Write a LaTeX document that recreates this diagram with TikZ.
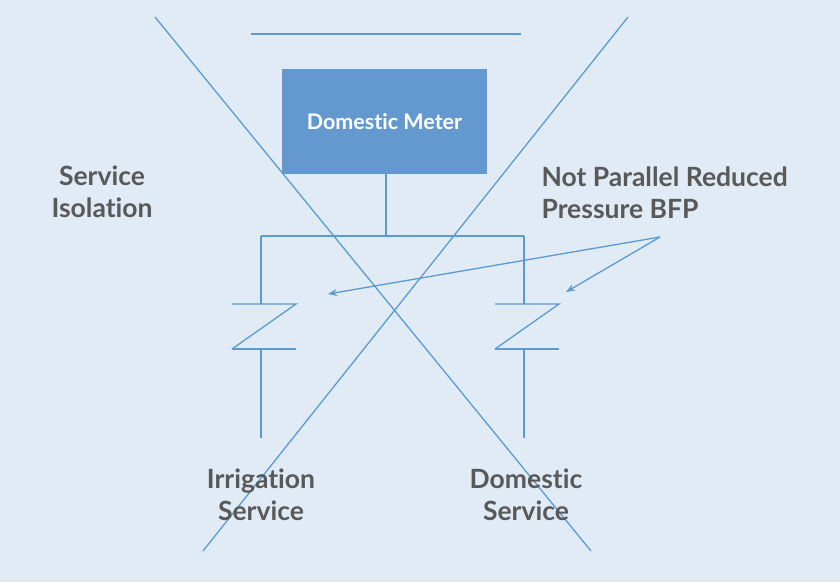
\documentclass[tikz,border=0pt]{standalone}
\usepackage{fontspec}
\setmainfont{Lato}[Ligatures={NoCommon}]
\usetikzlibrary{arrows.meta, positioning}
\definecolor{PipeBlue}{RGB}{91, 155, 213}
\definecolor{MeterBlue}{RGB}{100, 153, 207}
\definecolor{SheetBlue}{RGB}{225, 235, 245}
\definecolor{LabelGray}{RGB}{89, 89, 89}

\tikzset{
    pipe/.style={PipeBlue, line width=1.3pt},
    label/.style={text=LabelGray, font=\bfseries\fontsize{26.5}{32}\selectfont, align=center},
    pointer/.style={pipe, -{Stealth[length=9pt, width=7pt]}}
}

\begin{document}
\begin{tikzpicture}[x=1pt, y=-1pt]
    \fill[SheetBlue] (0,0) rectangle (840,582);
    \useasboundingbox (0,0) rectangle (840,582);

    % Meter and supply line
    \draw[pipe] (251,34) -- (521,34);
    \node[fill=MeterBlue, minimum width=205pt, minimum height=105pt, text=white,
          font=\bfseries\fontsize{21.5}{24}\selectfont] (meter) at (384.5,121.5) {Domestic Meter};

    % Header
    \coordinate (tee) at (386,236);
    \coordinate (hl) at (261,236);
    \coordinate (hr) at (524,236);
    \draw[pipe] (meter.south -| tee) -- (tee);
    \draw[pipe] (hl) -- (hr);

    % Branches with backflow preventer symbols
    \foreach \x/\n in {261/l, 524/r} {
        \coordinate (top\n) at (\x,304);
        \coordinate (bot\n) at (\x,349);
        \coordinate (end\n) at (\x,438);
        \draw[pipe] (\x,236) -- (top\n);
        \draw[pipe] (\x-29,304) -- (\x+35,304) -- (\x-29,349);
        \draw[pipe] (\x-29,349) -- (\x+35,349);
        \draw[pipe] (bot\n) -- (end\n);
    }

    % Crossing out
    \draw[pipe] (155,17) -- (591,551);
    \draw[pipe] (628,17) -- (203,551);

    % Labels
    \node[label] (isolation) at (102,192) {Service\\Isolation};
    \node[label, align=left, anchor=west] (bfp) at (538,193) {Not Parallel Reduced\\Pressure BFP};
    \node[label] (irrigation) at (261,495) {Irrigation\\Service};
    \node[label] (domestic) at (526,495) {Domestic\\Service};

    % Pointers
    \coordinate (tail) at (660,237);
    \coordinate (tipl) at (328,294);
    \coordinate (tipr) at (566,292);
    \draw[pointer] (tail) -- (tipl);
    \draw[pointer] (tail) -- (tipr);
\end{tikzpicture}
\end{document}
